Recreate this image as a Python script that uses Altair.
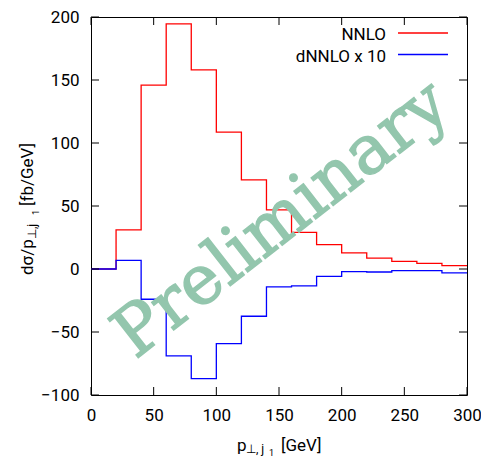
import altair as alt
import pandas as pd

# ---- data ----
bin_edges = [0, 20, 40, 60, 80, 100, 120, 140, 160, 180, 200, 220, 240, 260, 280, 300]
nnlo = [0, 31, 146, 194.5, 158, 108.6, 70.8, 47, 29, 19.4, 12.8, 8.7, 6, 4.5, 2.6]
dnnlo_x10 = [0, 6.8, -24, -69, -87, -59.3, -37.5, -14.2, -13.4, -5.8, -2.1, -2.4, -1.3, -1.3, -3.1]
series_names = ["NNLO", "dNNLO x 10"]
series_colors = ["#ff0000", "#0000ff"]
x_ticks = [0, 50, 100, 150, 200, 250, 300]
y_ticks = [-100, -50, 0, 50, 100, 150, 200]

W, H = 376, 378
TL = 8  # inward tick length
FONT = "Roboto"

rows = []
for name, vals in zip(series_names, [nnlo, dnnlo_x10]):
    ys = list(vals) + [vals[-1]]
    for x, y in zip(bin_edges, ys):
        rows.append({"x": x, "y": y, "series": name})
df = pd.DataFrame(rows)

xs = alt.Scale(domain=[0, 300], nice=False, zero=False)
ys = alt.Scale(domain=[-100, 200], nice=False, zero=False)

xaxis = alt.Axis(values=x_ticks, title=None, domain=False, ticks=False, grid=False,
                 labelFont=FONT, labelFontSize=17, labelColor="black", labelPadding=12,
                 labelFlush=False)
yaxis = alt.Axis(values=y_ticks, title=None, domain=False, ticks=False, grid=False,
                 labelFont=FONT, labelFontSize=17, labelColor="black", labelPadding=12,
                 labelFlush=False)

lines = alt.Chart(df).mark_line(interpolate="step-after", strokeWidth=1.3).encode(
    x=alt.X("x:Q", scale=xs, axis=xaxis),
    y=alt.Y("y:Q", scale=ys, axis=yaxis),
    color=alt.Color("series:N", scale=alt.Scale(domain=series_names, range=series_colors), legend=None),
    order=alt.Order("x:Q"),
)

one = pd.DataFrame({"a": [0]})


def txt(s, x, y, size, color="black", angle=0, align="left", font=FONT, baseline="alphabetic", **extra):
    kw = dict(text=s, fontSize=size, color=color, align=align, font=font, baseline=baseline, **extra)
    if angle:
        kw["angle"] = angle
    return alt.Chart(one).mark_text(**kw).encode(x=alt.value(x), y=alt.value(y))


watermark = txt("Preliminary", 191, 203, 68, color="#93c6ad", angle=322,
                align="center", font="DejaVu Serif", baseline="middle",
                stroke="#93c6ad", strokeWidth=1.4)

xt = pd.DataFrame({"v": x_ticks})
yt = pd.DataFrame({"v": y_ticks})
tick_bottom = alt.Chart(xt).mark_rule(color="black", strokeWidth=1).encode(
    x=alt.X("v:Q", scale=xs), y=alt.value(H), y2=alt.value(H - TL))
tick_top = alt.Chart(xt).mark_rule(color="black", strokeWidth=1).encode(
    x=alt.X("v:Q", scale=xs), y=alt.value(0), y2=alt.value(TL))
tick_left = alt.Chart(yt).mark_rule(color="black", strokeWidth=1).encode(
    y=alt.Y("v:Q", scale=ys), x=alt.value(0), x2=alt.value(TL))
tick_right = alt.Chart(yt).mark_rule(color="black", strokeWidth=1).encode(
    y=alt.Y("v:Q", scale=ys), x=alt.value(W), x2=alt.value(W - TL))

# legend (top right, inside)
leg = []
for i, (name, col) in enumerate(zip(series_names, series_colors)):
    yb = 23 + i * 21.5
    leg.append(txt(name, 295, yb, 17, align="right"))
    leg.append(alt.Chart(one).mark_rule(color=col, strokeWidth=1.3).encode(
        x=alt.value(307), x2=alt.value(357), y=alt.value(yb - 7), y2=alt.value(yb - 7)))

# axis titles with subscripts
titles = [
    txt("p", 146, 434, 17),
    txt("\u22a5, j", 155, 436, 12),
    txt("1", 178, 438.5, 9),
    txt("[GeV]", 190, 434, 17),
    txt("d\u03c3/p", -58, 258, 17, angle=270),
    txt("\u22a5,j", -55, 222, 12, angle=270),
    txt("1", -52, 198, 9, angle=270),
    txt("[fb/GeV]", -58, 189, 17, angle=270),
]

chart = alt.layer(lines, watermark, tick_bottom, tick_top, tick_left, tick_right, *leg, *titles).properties(
    width=W, height=H,
    autosize=alt.AutoSizeParams(type="none"),
    padding={"left": 83, "top": 9, "right": 14, "bottom": 62},
).configure_view(stroke="black", strokeWidth=1)

chart.save("out.html", embed_options={"renderer": "svg", "actions": False})
